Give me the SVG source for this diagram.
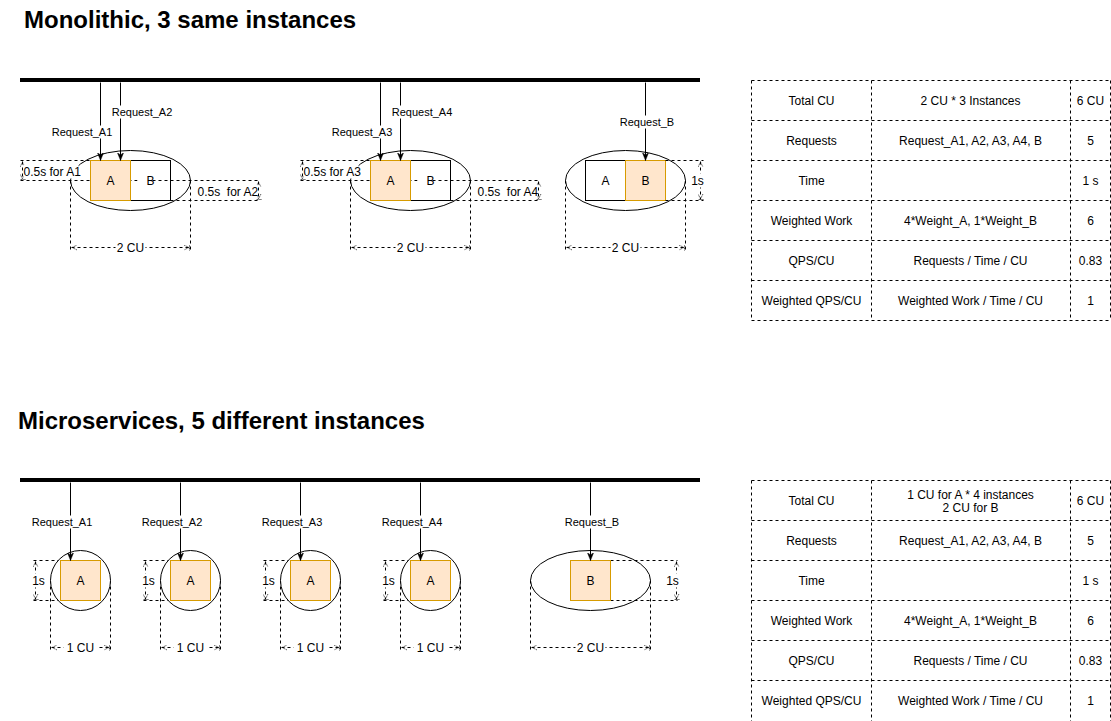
<svg xmlns="http://www.w3.org/2000/svg" width="1111" height="721" viewBox="0 0 1111 721">
<defs>
<style>
text{font-family:"Liberation Sans",Arial,sans-serif;fill:#000}
.title{font-size:24px;font-weight:bold}
.lbl{font-size:11px;text-anchor:middle}
.t12{font-size:12px;text-anchor:middle}
.tl{font-size:12px}
.bg{fill:#fff;stroke:none}
.conn{stroke:#000;stroke-width:1;fill:none}
.dash{stroke:#000;stroke-width:1;fill:none;stroke-dasharray:3 3}
.dim{stroke:#000;stroke-width:1;fill:none;stroke-dasharray:3 3;marker-start:url(#dimh);marker-end:url(#dimh)}
.inst{fill:#fff;stroke:#000;stroke-width:1}
.boxA{fill:#ffe6cc;stroke:#d79b00;stroke-width:1}
.boxW{fill:#fff;stroke:#000;stroke-width:1}
.bar{fill:#000}
.tbl{stroke:#000;stroke-width:1;fill:none;stroke-dasharray:3 3}
</style>
<marker id="arr" viewBox="0 0 10 10" refX="10" refY="5" markerWidth="8" markerHeight="8" markerUnits="userSpaceOnUse" orient="auto">
<path d="M0,1 L10,5 L0,9 L3,5 z" fill="#000" stroke="#000" stroke-width="0.5"/>
</marker>
<marker id="dimh" viewBox="0 0 10 10" refX="10" refY="5" markerWidth="6" markerHeight="6" markerUnits="userSpaceOnUse" orient="auto-start-reverse">
<path d="M1,1 L9,5 L1,9 M10,0 L10,10" fill="none" stroke="#000" stroke-width="1.2" stroke-dasharray="2 1"/>
</marker>
</defs>
<rect width="1111" height="721" fill="#fff"/>

<text class="title" x="24" y="28">Monolithic, 3 same instances</text>
<text class="title" x="18" y="429">Microservices, 5 different instances</text>

<g id="bus-top"><rect class="bar" x="20" y="78" width="680" height="4"/></g>
<g id="bus-bottom"><rect class="bar" x="20" y="478" width="680" height="4"/></g>

<g transform="translate(0.5,0.5)">
<!-- Monolithic instance 1 -->
<g id="mono1">
<ellipse class="inst" cx="130" cy="180" rx="60" ry="30"/>
<rect class="boxW" x="130" y="160" width="40" height="40"/>
<path class="dash" d="M20,160 H90 M20,180 H260 M170,200 H260 M70,180 V250 M190,180 V250"/>
<rect class="boxA" x="90" y="160" width="40" height="40"/>
<rect class="bg" x="137" y="174" width="12" height="12"/>
<text class="t12" x="110" y="184.3">A</text>
<text class="t12" x="150" y="184.3">B</text>
<path class="dim" d="M22,161 V179"/>
<path class="dim" d="M258,181 V199"/>
<path class="dim" d="M71,247 H189"/>
<rect class="bg" x="23" y="164" width="55" height="14"/>
<text class="tl" x="23" y="175.3">0.5s for A1</text>
<rect class="bg" x="196" y="184" width="61" height="14"/>
<text class="tl" x="197" y="195.3" xml:space="preserve">0.5s  for A2</text>
<rect class="bg" x="115" y="240" width="30" height="14"/>
<text class="t12" x="130" y="251.3">2 CU</text>
</g>

<!-- Monolithic instance 2 -->
<g id="mono2">
<ellipse class="inst" cx="410" cy="180" rx="60" ry="30"/>
<rect class="boxW" x="410" y="160" width="40" height="40"/>
<path class="dash" d="M300,160 H370 M300,180 H540 M450,200 H540 M350,180 V250 M470,180 V250"/>
<rect class="boxA" x="370" y="160" width="40" height="40"/>
<rect class="bg" x="417" y="174" width="12" height="12"/>
<text class="t12" x="390" y="184.3">A</text>
<text class="t12" x="430" y="184.3">B</text>
<path class="dim" d="M302,161 V179"/>
<path class="dim" d="M538,181 V199"/>
<path class="dim" d="M351,247 H469"/>
<rect class="bg" x="303" y="164" width="55" height="14"/>
<text class="tl" x="303" y="175.3">0.5s for A3</text>
<rect class="bg" x="476" y="184" width="61" height="14"/>
<text class="tl" x="477" y="195.3" xml:space="preserve">0.5s  for A4</text>
<rect class="bg" x="395" y="240" width="30" height="14"/>
<text class="t12" x="410" y="251.3">2 CU</text>
</g>

<!-- Monolithic instance 3 -->
<g id="mono3">
<ellipse class="inst" cx="625" cy="180" rx="60" ry="30"/>
<rect class="boxW" x="585" y="160" width="40" height="40"/>
<rect class="boxA" x="625" y="160" width="40" height="40"/>
<text class="t12" x="605" y="184.3">A</text>
<text class="t12" x="645" y="184.3">B</text>
<path class="dash" d="M665,160 H703 M665,200 H703 M565,180 V250 M685,180 V250"/>
<path class="dim" d="M700,161 V199"/>
<path class="dim" d="M566,247 H684"/>
<rect class="bg" x="689" y="173" width="15" height="14"/>
<text class="t12" x="697" y="184.3">1s</text>
<rect class="bg" x="610" y="240" width="30" height="14"/>
<text class="t12" x="625" y="251.3">2 CU</text>
</g>

<!-- Microservice instances -->
<g id="micro-a1">
<path class="dash" d="M33,560 H60 M33,600 H60 M50,580 V650 M110,580 V650"/>
<circle class="inst" cx="80" cy="580" r="30"/>
<rect class="boxA" x="60" y="560" width="40" height="40"/>
<text class="t12" x="80" y="584.3">A</text>
<path class="dim" d="M35,561 V599"/>
<path class="dim" d="M51,647 H109"/>
<rect class="bg" x="31" y="573" width="15" height="14"/>
<text class="t12" x="38" y="584.3">1s</text>
<rect class="bg" x="63" y="640" width="34" height="14"/>
<text class="t12" x="80" y="651.3">1 CU</text>
</g>
<g id="micro-a2">
<path class="dash" d="M143,560 H170 M143,600 H170 M160,580 V650 M220,580 V650"/>
<circle class="inst" cx="190" cy="580" r="30"/>
<rect class="boxA" x="170" y="560" width="40" height="40"/>
<text class="t12" x="190" y="584.3">A</text>
<path class="dim" d="M145,561 V599"/>
<path class="dim" d="M161,647 H219"/>
<rect class="bg" x="141" y="573" width="15" height="14"/>
<text class="t12" x="148" y="584.3">1s</text>
<rect class="bg" x="173" y="640" width="34" height="14"/>
<text class="t12" x="190" y="651.3">1 CU</text>
</g>
<g id="micro-a3">
<path class="dash" d="M263,560 H290 M263,600 H290 M280,580 V650 M340,580 V650"/>
<circle class="inst" cx="310" cy="580" r="30"/>
<rect class="boxA" x="290" y="560" width="40" height="40"/>
<text class="t12" x="310" y="584.3">A</text>
<path class="dim" d="M265,561 V599"/>
<path class="dim" d="M281,647 H339"/>
<rect class="bg" x="261" y="573" width="15" height="14"/>
<text class="t12" x="268" y="584.3">1s</text>
<rect class="bg" x="293" y="640" width="34" height="14"/>
<text class="t12" x="310" y="651.3">1 CU</text>
</g>
<g id="micro-a4">
<path class="dash" d="M383,560 H410 M383,600 H410 M400,580 V650 M460,580 V650"/>
<circle class="inst" cx="430" cy="580" r="30"/>
<rect class="boxA" x="410" y="560" width="40" height="40"/>
<text class="t12" x="430" y="584.3">A</text>
<path class="dim" d="M385,561 V599"/>
<path class="dim" d="M401,647 H459"/>
<rect class="bg" x="381" y="573" width="15" height="14"/>
<text class="t12" x="388" y="584.3">1s</text>
<rect class="bg" x="413" y="640" width="34" height="14"/>
<text class="t12" x="430" y="651.3">1 CU</text>
</g>
<g id="micro-b">
<ellipse class="inst" cx="590" cy="580" rx="60" ry="30"/>
<path class="dash" d="M610,560 H677 M610,600 H677 M530,580 V650 M650,580 V650"/>
<rect class="boxA" x="570" y="560" width="40" height="40"/>
<text class="t12" x="590" y="584.3">B</text>
<path class="dim" d="M676,561 V599"/>
<path class="dim" d="M531,647 H649"/>
<rect class="bg" x="664" y="573" width="15" height="14"/>
<text class="t12" x="672" y="584.3">1s</text>
<rect class="bg" x="575" y="640" width="30" height="14"/>
<text class="t12" x="590" y="651.3">2 CU</text>
</g>

<!-- Connectors -->
<g id="connectors">
<path class="conn" marker-end="url(#arr)" d="M100,82 V160"/>
<path class="conn" marker-end="url(#arr)" d="M120,82 V160"/>
<path class="conn" marker-end="url(#arr)" d="M380,82 V160"/>
<path class="conn" marker-end="url(#arr)" d="M400,82 V160"/>
<path class="conn" marker-end="url(#arr)" d="M645,82 V160"/>
<path class="conn" marker-end="url(#arr)" d="M70,482 V560"/>
<path class="conn" marker-end="url(#arr)" d="M180,482 V560"/>
<path class="conn" marker-end="url(#arr)" d="M300,482 V560"/>
<path class="conn" marker-end="url(#arr)" d="M420,482 V560"/>
<path class="conn" marker-end="url(#arr)" d="M590,482 V560"/>
<rect class="bg" x="52" y="125" width="59" height="13"/>
<text class="lbl" x="81.5" y="135.7">Request_A1</text>
<rect class="bg" x="112" y="105" width="59" height="13"/>
<text class="lbl" x="141.5" y="115.7">Request_A2</text>
<rect class="bg" x="332" y="125" width="59" height="13"/>
<text class="lbl" x="361.5" y="135.7">Request_A3</text>
<rect class="bg" x="392" y="105" width="59" height="13"/>
<text class="lbl" x="421.5" y="115.7">Request_A4</text>
<rect class="bg" x="619" y="115" width="55" height="13"/>
<text class="lbl" x="646.5" y="125.7">Request_B</text>
<rect class="bg" x="32" y="515" width="59" height="13"/>
<text class="lbl" x="61.5" y="525.7">Request_A1</text>
<rect class="bg" x="142" y="515" width="59" height="13"/>
<text class="lbl" x="171.5" y="525.7">Request_A2</text>
<rect class="bg" x="262" y="515" width="59" height="13"/>
<text class="lbl" x="291.5" y="525.7">Request_A3</text>
<rect class="bg" x="382" y="515" width="59" height="13"/>
<text class="lbl" x="411.5" y="525.7">Request_A4</text>
<rect class="bg" x="564" y="515" width="55" height="13"/>
<text class="lbl" x="591.5" y="525.7">Request_B</text>
</g>

<!-- Table top -->
<g id="table-mono">
<path class="tbl" d="M751,80 H1110 M751,120 H1110 M751,160 H1110 M751,200 H1110 M751,240 H1110 M751,280 H1110 M751,320 H1110 M751,80 V320 M871,80 V320 M1070,80 V320 M1110,80 V320"/>
<text class="t12" x="811" y="104.8">Total CU</text>
<text class="t12" x="970" y="104.8">2 CU * 3 Instances</text>
<text class="t12" x="1090" y="104.8">6 CU</text>
<text class="t12" x="811" y="144.8">Requests</text>
<text class="t12" x="970" y="144.8">Request_A1, A2, A3, A4, B</text>
<text class="t12" x="1090" y="144.8">5</text>
<text class="t12" x="811" y="184.8">Time</text>
<text class="t12" x="1090" y="184.8">1 s</text>
<text class="t12" x="811" y="224.8">Weighted Work</text>
<text class="t12" x="970" y="224.8">4*Weight_A, 1*Weight_B</text>
<text class="t12" x="1090" y="224.8">6</text>
<text class="t12" x="811" y="264.8">QPS/CU</text>
<text class="t12" x="970" y="264.8">Requests / Time / CU</text>
<text class="t12" x="1090" y="264.8">0.83</text>
<text class="t12" x="811" y="304.8">Weighted QPS/CU</text>
<text class="t12" x="970" y="304.8">Weighted Work / Time / CU</text>
<text class="t12" x="1090" y="304.8">1</text>
</g>

<!-- Table bottom -->
<g id="table-micro">
<path class="tbl" d="M751,480 H1110 M751,520 H1110 M751,560 H1110 M751,600 H1110 M751,640 H1110 M751,680 H1110 M751,480 V721 M871,480 V721 M1070,480 V721 M1110,480 V721"/>
<text class="t12" x="811" y="504.8">Total CU</text>
<text class="t12" x="970" y="498.3">1 CU for A * 4 instances</text>
<text class="t12" x="970" y="511.8">2 CU for B</text>
<text class="t12" x="1090" y="504.8">6 CU</text>
<text class="t12" x="811" y="544.8">Requests</text>
<text class="t12" x="970" y="544.8">Request_A1, A2, A3, A4, B</text>
<text class="t12" x="1090" y="544.8">5</text>
<text class="t12" x="811" y="584.8">Time</text>
<text class="t12" x="1090" y="584.8">1 s</text>
<text class="t12" x="811" y="624.8">Weighted Work</text>
<text class="t12" x="970" y="624.8">4*Weight_A, 1*Weight_B</text>
<text class="t12" x="1090" y="624.8">6</text>
<text class="t12" x="811" y="664.8">QPS/CU</text>
<text class="t12" x="970" y="664.8">Requests / Time / CU</text>
<text class="t12" x="1090" y="664.8">0.83</text>
<text class="t12" x="811" y="704.8">Weighted QPS/CU</text>
<text class="t12" x="970" y="704.8">Weighted Work / Time / CU</text>
<text class="t12" x="1090" y="704.8">1</text>
</g>
</g>
</svg>
